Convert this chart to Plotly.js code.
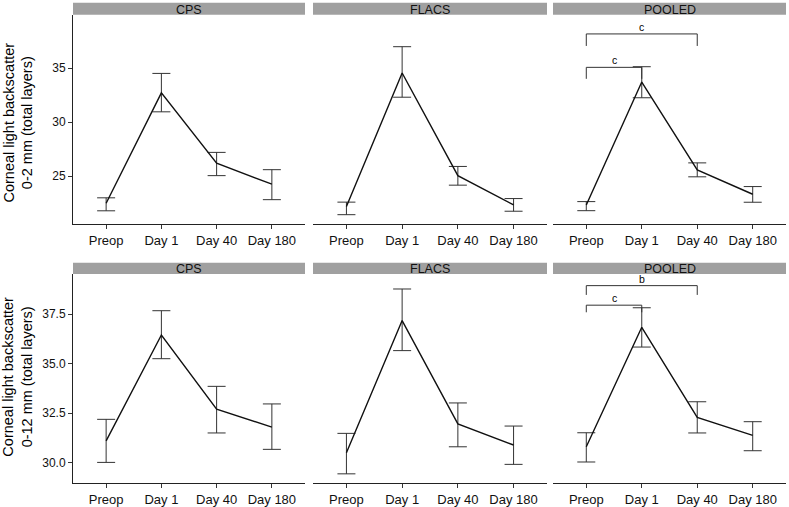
<!DOCTYPE html>
<html>
<head>
<meta charset="utf-8">
<script src="https://cdn.plot.ly/plotly-3.0.1.min.js"></script>
<style>html,body{margin:0;padding:0;background:#fff;}#chart{width:789px;height:507px;}</style>
</head>
<body>
<div id="chart"></div>
<script>
var categories = ["Preop", "Day 1", "Day 40", "Day 180"];
var panels = ["CPS", "FLACS", "POOLED"];
var rowTitles = ["Corneal light backscatter<br>0-2 mm (total layers)", "Corneal light backscatter<br>0-12 mm (total layers)"];

// Row 1: 0-2 mm
var cps02_mean  = [22.5, 32.7, 26.2, 24.26];
var cps02_upper = [23.0, 34.5, 27.2, 25.6];
var cps02_lower = [21.8, 30.95, 25.05, 22.83];
var flacs02_mean  = [22.19, 34.54, 25.05, 22.34];
var flacs02_upper = [22.6, 36.97, 25.9, 22.93];
var flacs02_lower = [21.44, 32.3, 24.17, 21.76];
var pooled02_mean  = [22.34, 33.7, 25.58, 23.33];
var pooled02_upper = [22.65, 35.12, 26.23, 24.04];
var pooled02_lower = [21.81, 32.25, 24.94, 22.59];

// Row 2: 0-12 mm
var cps012_mean  = [31.09, 36.45, 32.69, 31.79];
var cps012_upper = [32.18, 37.68, 33.85, 32.96];
var cps012_lower = [30.0, 35.25, 31.49, 30.66];
var flacs012_mean  = [30.49, 37.18, 31.95, 30.88];
var flacs012_upper = [31.47, 38.78, 33.01, 31.84];
var flacs012_lower = [29.42, 35.66, 30.79, 29.9];
var pooled012_mean  = [30.79, 36.84, 32.28, 31.37];
var pooled012_upper = [31.5, 37.83, 33.07, 32.06];
var pooled012_lower = [30.02, 35.84, 31.49, 30.59];

// Significance brackets (POOLED panels)
var bracket02_from = ["Preop", "Preop"];
var bracket02_to = ["Day 40", "Day 1"];
var bracket02_top = [38.15, 35.06];
var bracket02_foot = [37.04, 34.0];
var bracket02_label = ["c", "c"];
var bracket012_from = ["Preop", "Preop"];
var bracket012_to = ["Day 40", "Day 1"];
var bracket012_top = [38.95, 37.96];
var bracket012_foot = [38.48, 37.6];
var bracket012_label = ["b", "c"];

var yTicks02 = [25, 30, 35];
var yTicks012 = [30.0, 32.5, 35.0, 37.5];

var rows = [
  {series: [[cps02_mean, cps02_upper, cps02_lower], [flacs02_mean, flacs02_upper, flacs02_lower], [pooled02_mean, pooled02_upper, pooled02_lower]],
   brackets: {from: bracket02_from, to: bracket02_to, top: bracket02_top, foot: bracket02_foot, label: bracket02_label},
   range: [20.58, 39.9], ticks: yTicks02, fmt: "d", domain: [0.5582, 0.9704], strip: [0.971, 0.9947], titleShift: -3},
  {series: [[cps012_mean, cps012_upper, cps012_lower], [flacs012_mean, flacs012_upper, flacs012_lower], [pooled012_mean, pooled012_upper, pooled012_lower]],
   brackets: {from: bracket012_from, to: bracket012_to, top: bracket012_top, foot: bracket012_foot, label: bracket012_label},
   range: [28.94, 39.54], ticks: yTicks012, fmt: ".1f", domain: [0.0467, 0.4596], strip: [0.4596, 0.4818], titleShift: 2}
];

var xDomains = [[73/789, 305/789], [313/789, 547/789], [553/789, 786/789]];
var FONT = "Liberation Sans, Arial, Helvetica, sans-serif";

var traces = [];
var layout = {
  width: 789, height: 507,
  margin: {l: 0, r: 0, t: 0, b: 0},
  paper_bgcolor: "#fff", plot_bgcolor: "#fff",
  showlegend: false,
  font: {family: FONT, color: "#000"},
  shapes: [], annotations: []
};

rows.forEach(function(row, r) {
  panels.forEach(function(name, c) {
    var idx = r * 3 + c + 1;
    var xa = "x" + (idx === 1 ? "" : idx), ya = "y" + (idx === 1 ? "" : idx);
    var s = row.series[c];
    var mean = s[0], up = s[1], lo = s[2];
    traces.push({
      type: "scatter", mode: "lines", x: categories, y: mean,
      xaxis: xa, yaxis: ya,
      line: {color: "#111", width: 1.4},
      error_y: {type: "data", symmetric: false,
        array: up.map(function(v, i) { return v - mean[i]; }),
        arrayminus: lo.map(function(v, i) { return mean[i] - v; }),
        color: "#333", thickness: 1, width: 9},
      hoverinfo: "skip"
    });
    layout["xaxis" + (idx === 1 ? "" : idx)] = {
      domain: xDomains[c], anchor: ya, type: "category",
      categoryorder: "array", categoryarray: categories,
      range: [-0.6, 3.6], showline: true, linecolor: "#222", linewidth: 1,
      ticks: "outside", ticklen: 4, tickcolor: "#333", tickwidth: 1,
      showgrid: false, zeroline: false,
      tickfont: {family: FONT, size: 13, color: "#111"}
    };
    layout["yaxis" + (idx === 1 ? "" : idx)] = {
      domain: row.domain, anchor: xa, range: row.range,
      tickvals: row.ticks, tickformat: row.fmt,
      showline: c === 0, linecolor: "#222", linewidth: 1,
      ticks: c === 0 ? "outside" : "", ticklen: 4, tickcolor: "#333",
      showticklabels: c === 0, showgrid: false, zeroline: false,
      tickfont: {family: FONT, size: 12, color: "#111"}
    };
    // strip
    layout.shapes.push({type: "rect", xref: "paper", yref: "paper",
      x0: xDomains[c][0], x1: xDomains[c][1], y0: row.strip[0], y1: row.strip[1],
      fillcolor: "#a0a0a0", line: {width: 0}, layer: "below"});
    layout.annotations.push({xref: "paper", yref: "paper",
      x: (xDomains[c][0] + xDomains[c][1]) / 2, y: (row.strip[0] + row.strip[1]) / 2 - 0.002,
      xanchor: "center", yanchor: "middle", text: name, showarrow: false,
      font: {family: FONT, size: 12.5, color: "#111"}});
    if (c === 2) {
      var b = row.brackets;
      b.from.forEach(function(f, k) {
        traces.push({type: "scatter", mode: "lines",
          x: [f, f, b.to[k], b.to[k]], y: [b.foot[k], b.top[k], b.top[k], b.foot[k]],
          xaxis: xa, yaxis: ya, line: {color: "#333", width: 1}, hoverinfo: "skip"});
        var i0 = categories.indexOf(f), i1 = categories.indexOf(b.to[k]);
        layout.annotations.push({xref: xa, yref: ya, x: (i0 + i1) / 2, y: b.top[k],
          xanchor: "center", yanchor: "bottom", text: b.label[k], showarrow: false,
          yshift: -1, font: {family: FONT, size: 10.5, color: "#000000"}});
      });
    }
  });
  layout.annotations.push({xref: "paper", yref: "paper", x: 18/789,
    y: (row.domain[0] + row.domain[1]) / 2, xanchor: "center", yanchor: "middle",
    yshift: row.titleShift,
    textangle: -90, text: rowTitles[r], showarrow: false,
    font: {family: FONT, size: 14.5, color: "#000"}});
});

Plotly.newPlot("chart", traces, layout, {displayModeBar: false, staticPlot: true});
</script>
</body>
</html>
